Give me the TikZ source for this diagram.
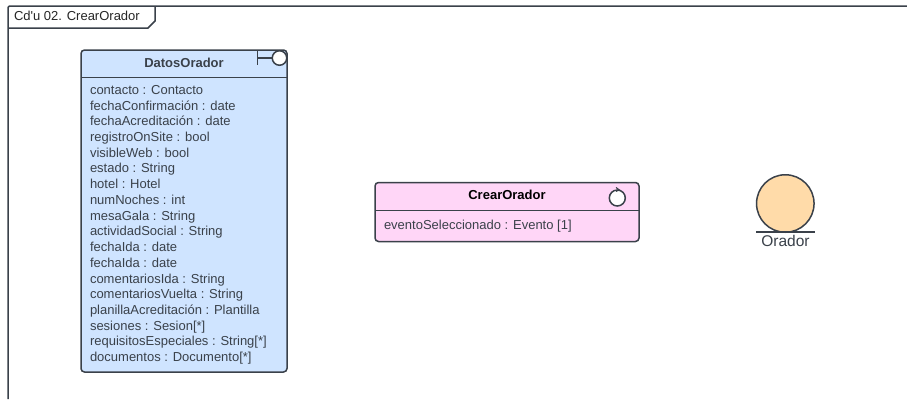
\documentclass[tikz,border=0pt]{standalone}
\usepackage{fontspec}
\setmainfont{Liberation Sans}[Ligatures=TeXOff]
\definecolor{ln}{HTML}{3A414A}
\definecolor{bluef}{HTML}{CFE4FF}
\definecolor{pinkf}{HTML}{FFD6F7}
\definecolor{orangef}{HTML}{FFDBA9}
\tikzset{
 every node/.style={inner sep=0pt,outer sep=0pt},
 edge/.style={draw=ln,line width=1.5pt},
 classbox/.style={edge,rounded corners=3.5pt},
 attr/.style={anchor=base west,text=ln,font=\fontsize{13}{14}\selectfont},
 ttl/.style={anchor=base,font=\fontsize{13}{14}\selectfont\bfseries},
}
\begin{document}
\begin{tikzpicture}[x=1pt,y=-1pt]
\useasboundingbox (0,0) rectangle (907,399);
\fill[white] (0,0) rectangle (907,399);
% frame
\coordinate (fb) at (8,399);
\coordinate (fr) at (907,6);
\draw[edge,rounded corners=2pt] (fb) -- (8,6) -- (fr);
\coordinate (tl) at (8,28);
\coordinate (tc) at (148,28);
\coordinate (tr) at (155,21);
\coordinate (tt) at (155,6);
\draw[edge] (tl) -- (tc) -- (tr) -- (tt);
\node[anchor=base west,text=black!85,font=\fontsize{13}{14}\selectfont] (frameLabel) at (14,20) {Cd'u 02. CrearOrador};
% DatosOrador
\node[classbox,fill=bluef,minimum width=206pt,minimum height=322pt,anchor=north west] (datos) at (81,50) {};
\coordinate (dl) at (81,77.5);
\coordinate (dr) at (287,77.5);
\draw[edge] (dl) -- (dr);
\node[ttl,text=ln] (datosT) at (184,67.7) {DatosOrador};
\coordinate (b1) at (257.3,51);
\coordinate (b2) at (257.3,65);
\coordinate (b3) at (257.3,58);
\draw[edge] (b1) -- (b2);
\node[circle,edge,fill=white,minimum size=14.5pt] (bc) at (279.5,58) {};
\draw[edge] (b3) -- (bc);
\foreach \t [count=\i from 0] in {contacto : Contacto,fechaConfirmación : date,fechaAcreditación : date,registroOnSite : bool,visibleWeb : bool,estado : String,hotel : Hotel,numNoches : int,mesaGala : String,actividadSocial : String,fechaIda : date,fechaIda : date,comentariosIda : String,comentariosVuelta : String,planillaAcreditación : Plantilla,sesiones : Sesion[*],requisitosEspeciales : String[*],documentos : Documento[*]}
 \node[attr] (a\i) at (90,{94.3+15.73*\i}) {\t};
% CrearOrador
\node[classbox,fill=pinkf,minimum width=264pt,minimum height=59pt,anchor=north west] (crear) at (375,182.5) {};
\coordinate (cl) at (375,210.5);
\coordinate (cr) at (639,210.5);
\draw[edge] (cl) -- (cr);
\node[ttl,text=black] (crearT) at (507,199) {CrearOrador};
\node[circle,edge,fill=white,minimum size=16pt] (ctl) at (617.3,198) {};
\coordinate (k1) at (616,187.5);
\coordinate (k2) at (619,189.7);
\coordinate (k3) at (616,191.5);
\draw[ln,line width=1.1pt] (k1) -- (k2) -- (k3);
\node[attr] (ev) at (384,229.3) {eventoSeleccionado : Evento [1]};
% Orador
\node[circle,edge,fill=orangef,minimum size=57.5pt] (or) at (785.3,203.5) {};
\coordinate (ol) at (756,232);
\coordinate (orr) at (815,232);
\draw[edge] (ol) -- (orr);
\node[anchor=base,text=ln,font=\fontsize{15.5}{17}\selectfont] (orT) at (785.5,246) {Orador};
\end{tikzpicture}
\end{document}
